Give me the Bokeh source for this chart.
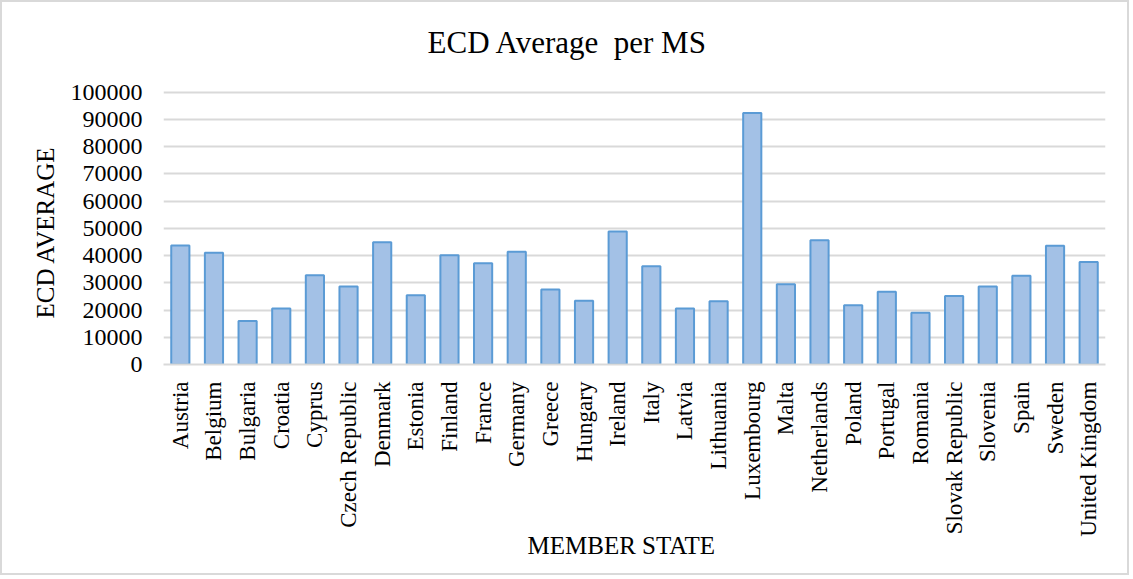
import math

from bokeh.plotting import figure
from bokeh.models import ColumnDataSource, FixedTicker, NumeralTickFormatter, FactorRange, Range1d, Label, Title
from bokeh.embed import file_html
from bokeh.resources import INLINE

# ECD average per member state
countries = [
    "Austria", "Belgium", "Bulgaria", "Croatia", "Cyprus", "Czech Republic",
    "Denmark", "Estonia", "Finland", "France", "Germany", "Greece", "Hungary",
    "Ireland", "Italy", "Latvia", "Lithuania", "Luxembourg", "Malta",
    "Netherlands", "Poland", "Portugal", "Romania", "Slovak Republic",
    "Slovenia", "Spain", "Sweden", "United Kingdom",
]
ecd_average = [
    43700, 41000, 16000, 20600, 32800, 28600,
    44900, 25400, 40100, 37200, 41400, 27500, 23400,
    48800, 36100, 20600, 23200, 92400, 29500,
    45600, 21800, 26700, 19000, 25200,
    28600, 32600, 43600, 37600,
]
y_ticks = [0, 10000, 20000, 30000, 40000, 50000, 60000, 70000, 80000, 90000, 100000]

FONT = "Liberation Serif"
GRID = "#D9D9D9"

source = ColumnDataSource(data=dict(country=countries, value=ecd_average))

# the value range runs past the top gridline to leave headroom for the title
p = figure(
    x_range=FactorRange(*countries),
    y_range=Range1d(0, 125600),
    width=1129, height=575,
    output_backend="svg",
    toolbar_location=None,
    min_border_left=161, min_border_right=26,
    min_border_top=20, min_border_bottom=213,
    styles={"border": "2px solid #D9D9D9"},
)

p.vbar(
    x="country", top="value", width=0.54, source=source,
    fill_color="#A3C1E6", line_color="#5B9BD5", line_width=2,
)

# chart title, centred over the whole chart
p.add_layout(Label(
    x=12.01, y=118250, text="ECD Average\u00a0 per MS",
    text_font=FONT, text_font_size="31px", text_color="#000000",
    text_align="center", text_baseline="alphabetic",
))

p.outline_line_color = None
p.background_fill_color = "white"
p.border_fill_color = "white"

# grid
p.xgrid.grid_line_color = None
p.ygrid.grid_line_color = GRID
p.ygrid.grid_line_width = 2
p.ygrid.ticker = FixedTicker(ticks=y_ticks)

# y axis
p.yaxis.ticker = FixedTicker(ticks=y_ticks)
p.yaxis.formatter = NumeralTickFormatter(format="0")
p.yaxis.axis_line_color = None
p.yaxis.major_tick_line_color = None
p.yaxis.minor_tick_line_color = None
p.yaxis.major_label_text_font = FONT
p.yaxis.major_label_text_font_size = "24px"
p.yaxis.major_label_text_color = "#000000"
p.yaxis.major_label_standoff = 15

# x axis
p.xaxis.axis_line_color = GRID
p.xaxis.axis_line_width = 2
p.xaxis.major_tick_line_color = None
p.xaxis.minor_tick_line_color = None
p.xaxis.major_label_orientation = math.pi / 2
p.xaxis.major_label_text_font = FONT
p.xaxis.major_label_text_font_size = "23px"
p.xaxis.major_label_text_color = "#000000"
p.xaxis.major_label_standoff = 11

# axis titles, centred on the value grid and the category labels
p.add_layout(Title(
    text="ECD AVERAGE", align="left", offset=46, standoff=18,
    text_font=FONT, text_font_size="25px", text_font_style="normal",
    text_color="#000000",
), "left")
p.add_layout(Title(
    text="MEMBER STATE", align="left", offset=364, standoff=-19,
    text_font=FONT, text_font_size="25px", text_font_style="normal",
    text_color="#000000",
), "below")

open("out.html", "w").write(file_html(p, INLINE))
